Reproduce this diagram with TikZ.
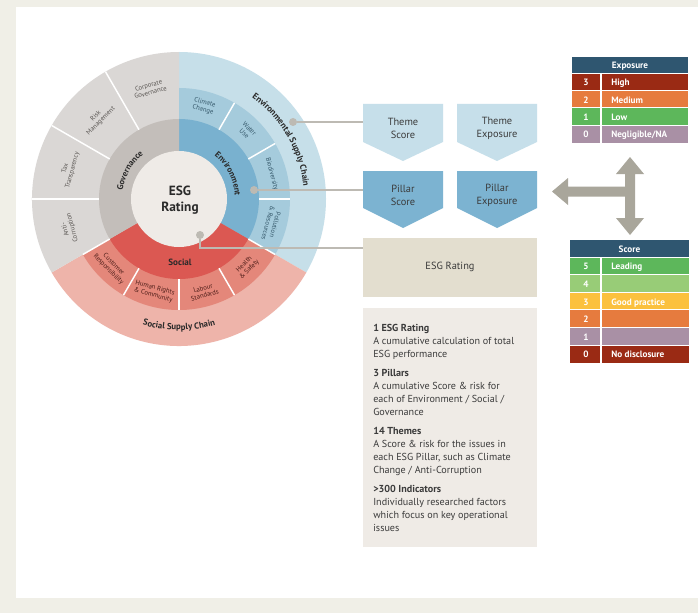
\documentclass[tikz,border=0pt]{standalone}
\usepackage{fontspec}
\setmainfont{PT Sans}
\usetikzlibrary{decorations.text,calc}
\definecolor{bgframe}{HTML}{F0EFE7}
\definecolor{envsc}{HTML}{C6DFE9}
\definecolor{envth}{HTML}{A5CBDC}
\definecolor{envp}{HTML}{79B1CF}
\definecolor{govth}{HTML}{DAD7D5}
\definecolor{govp}{HTML}{C3BEBA}
\definecolor{socp}{HTML}{DB5852}
\definecolor{socth}{HTML}{E4877A}
\definecolor{socsc}{HTML}{EEB4AA}
\definecolor{ctrfill}{HTML}{EFEBE7}
\definecolor{conn}{HTML}{BDBAB3}
\definecolor{themebox}{HTML}{C6DFEA}
\definecolor{pillarbox}{HTML}{7CB3D1}
\definecolor{ratingbox}{HTML}{E3DECF}
\definecolor{descbox}{HTML}{EFEBE6}
\definecolor{arrowgray}{HTML}{A9A69B}
\definecolor{hdr}{HTML}{2F5670}
\definecolor{cHigh}{HTML}{9A2A14}
\definecolor{cMed}{HTML}{E67B3E}
\definecolor{cLow}{HTML}{5DB75B}
\definecolor{cNeg}{HTML}{A990A5}
\definecolor{cFour}{HTML}{98CC77}
\definecolor{cThree}{HTML}{FBC13E}
\definecolor{txt}{HTML}{3B3B3B}
\definecolor{darktxt}{HTML}{2A2A2A}
\definecolor{envtxt}{HTML}{36596B}
\definecolor{soctxt}{HTML}{4E1E19}
\definecolor{govtxt}{HTML}{5A5653}
\newcommand\myscfont{\fontsize{6.6}{7}\selectfont\bfseries}
\newcommand\mypilfont{\fontsize{6.4}{7}\selectfont\bfseries}
\begin{document}
\begin{tikzpicture}[x=0.75pt,y=0.75pt,
  divider/.style={draw=white,line width=1.1pt},
  dotnode/.style={circle,fill=conn,minimum size=6pt,inner sep=0pt},
  connline/.style={draw=conn,line width=1.1pt},
  boxtxt/.style={align=center,font=\fontsize{7.8}{9.6}\selectfont,text=txt,inner sep=0pt},
  thm/.style={align=center,font=\fontsize{5}{5.5}\selectfont,inner sep=0pt},
  tbl/.style={font=\fontsize{6.9}{7.5}\selectfont\bfseries,text=white,inner sep=0pt,text height=1.5ex,text depth=0.3ex},
  sepline/.style={draw=white,line width=0.5pt},
  colline/.style={draw=white,line width=0.8pt}]
\useasboundingbox (0,0) rectangle (698,-613);
\fill[bgframe] (0,0) rectangle (698,-613);
\fill[white] (16,-7) rectangle (698,-598);

% ---------------- wheel ----------------
\coordinate (C) at (179,-199);
\begin{scope}[shift={(179,-199)}]
  \fill[envsc] (0,0) -- (90:147) arc[start angle=90,end angle=-30,radius=147] -- cycle;
  \fill[socsc] (0,0) -- (-30:147) arc[start angle=-30,end angle=-150,radius=147] -- cycle;
  \fill[govth] (0,0) -- (210:147) arc[start angle=210,end angle=90,radius=147] -- cycle;
  \fill[envth] (0,0) -- (90:111) arc[start angle=90,end angle=-30,radius=111] -- cycle;
  \fill[socth] (0,0) -- (-30:111) arc[start angle=-30,end angle=-150,radius=111] -- cycle;
  \fill[envp] (0,0) -- (90:80) arc[start angle=90,end angle=-30,radius=80] -- cycle;
  \fill[socp] (0,0) -- (-30:80) arc[start angle=-30,end angle=-150,radius=80] -- cycle;
  \fill[govp] (0,0) -- (210:80) arc[start angle=210,end angle=90,radius=80] -- cycle;
  \fill[ctrfill] (0,0) circle[radius=48];
  \foreach \a in {60,30,0,-30,-60,-90,-120,-150} \draw[divider] (\a:80) -- (\a:111);
  \foreach \a in {120,150,180} \draw[divider] (\a:80) -- (\a:147);

  % ring labels
  \path[decorate,decoration={text along path,text align=center,text color=darktxt,
      text={|\myscfont|Environmental Supply Chain}}]
      (62:125) arc[start angle=62,end angle=-2,radius=125];
  \path[decorate,decoration={text along path,text align=center,text color=darktxt,
      text={|\myscfont|Social Supply Chain}}]
      (-125:131) arc[start angle=-125,end angle=-55,radius=131];
  \path[decorate,decoration={text along path,text align=center,text color=darktxt,
      text={|\mypilfont|Governance}}]
      (205:57) arc[start angle=205,end angle=95,radius=57];
  \path[decorate,decoration={text along path,text align=center,text color=darktxt,
      text={|\mypilfont|Environment}}]
      (80:56) arc[start angle=80,end angle=-26,radius=56];
\end{scope}

\node[font=\fontsize{6.8}{7}\selectfont\bfseries,text=darktxt] (social) at (180,-262) {Social};
\node[align=center,font=\fontsize{10}{12}\selectfont\bfseries,text=darktxt] (esg) at (180,-200) {ESG\\Rating};

% theme labels
\foreach \a/\r/\t [count=\i] in {75/-15/{Climate\\Change},45/-45/{Water\\Use},15/-75/{Biodiversity},-15/-105/{Pollution\\\& Resources}}
  \node[thm,text=envtxt,rotate=\r] (envt\i) at ([shift={(\a:96)}]C) {\t};
\foreach \a/\r/\t [count=\i] in {-45/45/{Health\\\& Safety},-75/15/{Labour\\Standards},-105/-15/{Human Rights\\\& Community},-135/-45/{Customer\\Responsibility}}
  \node[thm,text=soctxt,rotate=\r] (soct\i) at ([shift={(\a:96)}]C) {\t};
\foreach \a/\r/\t [count=\i] in {105/15/{Corporate\\Governance},135/45/{Risk\\Management},165/75/{Tax\\Transparency},195/105/{Anti-\\Corruption}}
  \node[thm,text=govtxt,rotate=\r] (govt\i) at ([shift={(\a:114)}]C) {\t};

% ---------------- boxes ----------------
\fill[themebox] (363,-104) -- (443,-104) -- (443,-142) -- (403,-161) -- (363,-142) -- cycle;
\fill[themebox] (457,-104) -- (537,-104) -- (537,-142) -- (497,-161) -- (457,-142) -- cycle;
\fill[pillarbox] (363,-171) -- (443,-171) -- (443,-208) -- (403,-228) -- (363,-208) -- cycle;
\fill[pillarbox] (457,-171) -- (537,-171) -- (537,-208) -- (497,-228) -- (457,-208) -- cycle;
\node[boxtxt] (ts) at (403,-128.5) {Theme\\Score};
\node[boxtxt] (te) at (497,-128.5) {Theme\\Exposure};
\node[boxtxt] (ps) at (403,-195) {Pillar\\Score};
\node[boxtxt] (pe) at (497,-195) {Pillar\\Exposure};
\coordinate (tsW) at (363,-122);
\coordinate (psW) at (363,-190);
\fill[ratingbox] (363,-238) rectangle (537,-297);
\coordinate (erW) at (363,-248);
\node[boxtxt] (er) at (450,-267) {ESG Rating};

% connectors
\node[dotnode] (d1) at (293,-122) {};
\node[dotnode] (d2) at (254,-190) {};
\node[dotnode] (d3) at (200,-235) {};
\coordinate (k3) at (200,-248);
\draw[connline] (d1) -- (d1 -| tsW);
\draw[connline] (d2) -- (d2 -| psW);
\draw[connline] (d3) -- (k3) -- (erW);

% description
\fill[descbox] (363,-308) rectangle (537,-547);
\node[anchor=north west,align=left,inner sep=0pt,text=txt,
      font=\fontsize{7.6}{9.75}\selectfont] (desc) at (373,-324)
{{\bfseries 1 ESG Rating}\\
A cumulative calculation of total\\
ESG performance\\[4.5pt]
{\bfseries 3 Pillars}\\
A cumulative Score \& risk for\\
each of Environment / Social /\\
Governance\\[4.5pt]
{\bfseries 14 Themes}\\
A Score \& risk for the issues in\\
each ESG Pillar, such as Climate\\
Change / Anti-Corruption\\[4.5pt]
{\bfseries >300 Indicators}\\
Individually researched factors\\
which focus on key operational\\
issues};

% arrow
\fill[arrowgray] (552,-191.5) -- (568,-178) -- (568,-186.5) -- (625,-186.5) -- (625,-174)
  -- (616,-174) -- (630,-157) -- (644,-174) -- (635,-174) -- (635,-218) -- (644,-218)
  -- (630,-235) -- (616,-218) -- (625,-218) -- (625,-196.5) -- (568,-196.5) -- (568,-205) -- cycle;

% exposure table
\fill[hdr] (572,-57) rectangle (688,-73);
\node[tbl] (exh) at (630,-65) {Exposure};
\fill[cHigh] (572,-73) rectangle (688,-90.4);
\fill[cMed] (572,-90.4) rectangle (688,-107.8);
\fill[cLow] (572,-107.8) rectangle (688,-125.2);
\fill[cNeg] (572,-125.2) rectangle (688,-142.6);
\foreach \y in {73,90.4,107.8,125.2} \draw[sepline] (572,-\y) -- (688,-\y);
\draw[colline] (601,-73) -- (601,-142.6);
\node[tbl] (e3) at (586,-81.7) {3};
\node[tbl,anchor=west] (e3l) at (611,-81.7) {High};
\node[tbl] (e2) at (586,-99.1) {2};
\node[tbl,anchor=west] (e2l) at (611,-99.1) {Medium};
\node[tbl] (e1) at (586,-116.5) {1};
\node[tbl,anchor=west] (e1l) at (611,-116.5) {Low};
\node[tbl] (e0) at (586,-133.9) {0};
\node[tbl,anchor=west] (e0l) at (611,-133.9) {Negligible/NA};

% score table
\fill[hdr] (570,-240) rectangle (689,-257);
\node[tbl] (sch) at (629.5,-248.5) {Score};
\fill[cLow] (570,-257) rectangle (689,-274.6);
\fill[cFour] (570,-274.6) rectangle (689,-292.2);
\fill[cThree] (570,-292.2) rectangle (689,-309.8);
\fill[cMed] (570,-309.8) rectangle (689,-327.4);
\fill[cNeg] (570,-327.4) rectangle (689,-345);
\fill[cHigh] (570,-345) rectangle (689,-362.6);
\foreach \y in {257,274.6,292.2,309.8,327.4,345} \draw[sepline] (570,-\y) -- (689,-\y);
\draw[colline] (601,-257) -- (601,-362.6);
\node[tbl] (s5) at (586,-265.8) {5};
\node[tbl,anchor=west] (s5l) at (611,-265.8) {Leading};
\node[tbl] (s4) at (586,-283.4) {4};
\node[tbl] (s3) at (586,-301) {3};
\node[tbl,anchor=west] (s3l) at (611,-301) {Good practice};
\node[tbl] (s2) at (586,-318.6) {2};
\node[tbl] (s1) at (586,-336.2) {1};
\node[tbl] (s0) at (586,-353.8) {0};
\node[tbl,anchor=west] (s0l) at (611,-353.8) {No disclosure};
\end{tikzpicture}
\end{document}
